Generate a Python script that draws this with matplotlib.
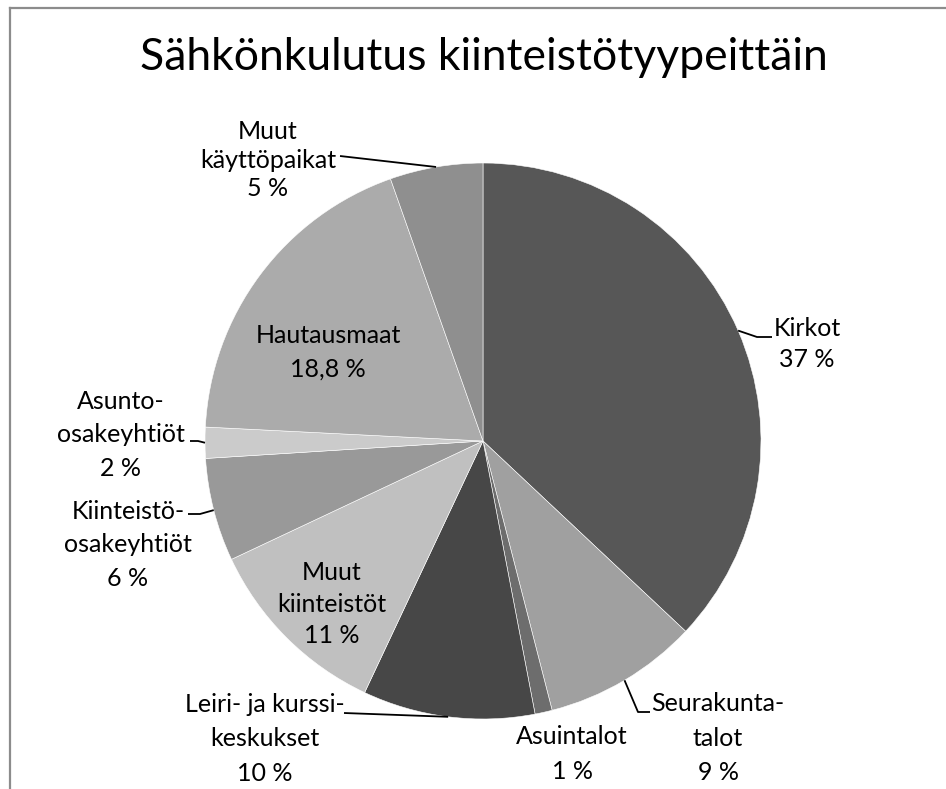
import numpy as np
import matplotlib
matplotlib.use('Agg')
import matplotlib.pyplot as plt
from matplotlib.lines import Line2D

plt.rcParams['font.family'] = ['Lato', 'DejaVu Sans']

# data
categories = ['Kirkot', 'Seurakunta-\ntalot', 'Asuintalot', 'Leiri- ja kurssi-\nkeskukset',
              'Muut\nkiinteistöt', 'Kiinteistö-\nosakeyhtiöt', 'Asunto-\nosakeyhtiöt',
              'Hautausmaat', 'Muut\nkäyttöpaikat']
values = [37.0, 9.0, 1.0, 10.0, 11.0, 6.0, 1.8, 18.8, 5.4]
pct_labels = ['37 %', '9 %', '1 %', '10 %', '11 %', '6 %', '2 %', '18,8 %', '5 %']
colors = ['#575757', '#a0a0a0', '#6d6d6d', '#474747', '#c0c0c0',
          '#999999', '#cbcbcb', '#ababab', '#8f8f8f']

W, H = 946, 789
CX, CY, R = 483, 441, 278


def px(x, y):
    # pixel -> data coords (pie centre at 0,0 radius 1)
    return (x - CX) / R, (CY - y) / R


# label centres (pixels) and leader elbows (None = label sits inside)
label_pos = [(807, 344), (718, 738), (572, 754), (265, 739), (332, 604),
             (128, 545), (121, 435), (328, 352), (268, 160)]
spacing = [1.45, 1.6, 1.6, 1.6, 1.45, 1.55, 1.55, 1.55, 1.3]
leaders = [[(772, 337), (757, 337)],
           [(650, 712), (638, 712)],
           None,
           [(344, 713)],
           None,
           [(188, 514), (200, 514)],
           [(190, 441), (198, 441)],
           None,
           [(340, 156)]]

fig = plt.figure(figsize=(W / 100, H / 100), dpi=100)
ax = fig.add_axes([0, 0, 1, 1])

wedges, _ = ax.pie(values, colors=colors, startangle=90, counterclock=False,
                   radius=1, center=(0, 0),
                   wedgeprops=dict(edgecolor='white', linewidth=0.4))

for i, w in enumerate(wedges):
    text = categories[i] + '\n' + pct_labels[i]
    lx, ly = px(*label_pos[i])
    ax.text(lx, ly, text, ha='center', va='center', fontsize=18,
            linespacing=spacing[i], color='black')
    if leaders[i] is not None:
        mid = np.deg2rad((w.theta1 + w.theta2) / 2)
        ex, ey = np.cos(mid), np.sin(mid)
        pts = [px(*p) for p in leaders[i]] + [(ex, ey)]
        xs, ys = zip(*pts)
        ax.plot(xs, ys, color='black', linewidth=1.3, solid_capstyle='butt')

ax.set_xlim(px(0, 0)[0], px(W, 0)[0])
ax.set_ylim(px(0, H)[1], px(0, 0)[1])
ax.set_aspect('auto')
ax.axis('off')

fig.text(484 / W, 1 - 57 / H, 'Sähkönkulutus kiinteistötyypeittäin',
         ha='center', va='center', fontsize=32)

# outer chart frame (only left and top edges visible)
fig.add_artist(Line2D([9.5 / W, 9.5 / W], [0, 1 - 7.5 / H], transform=fig.transFigure,
                      color='#8c8c8c', linewidth=1.6))
fig.add_artist(Line2D([9.5 / W, 1], [1 - 7.5 / H, 1 - 7.5 / H], transform=fig.transFigure,
                      color='#8c8c8c', linewidth=1.6))

fig.savefig('out.png', dpi=100)
